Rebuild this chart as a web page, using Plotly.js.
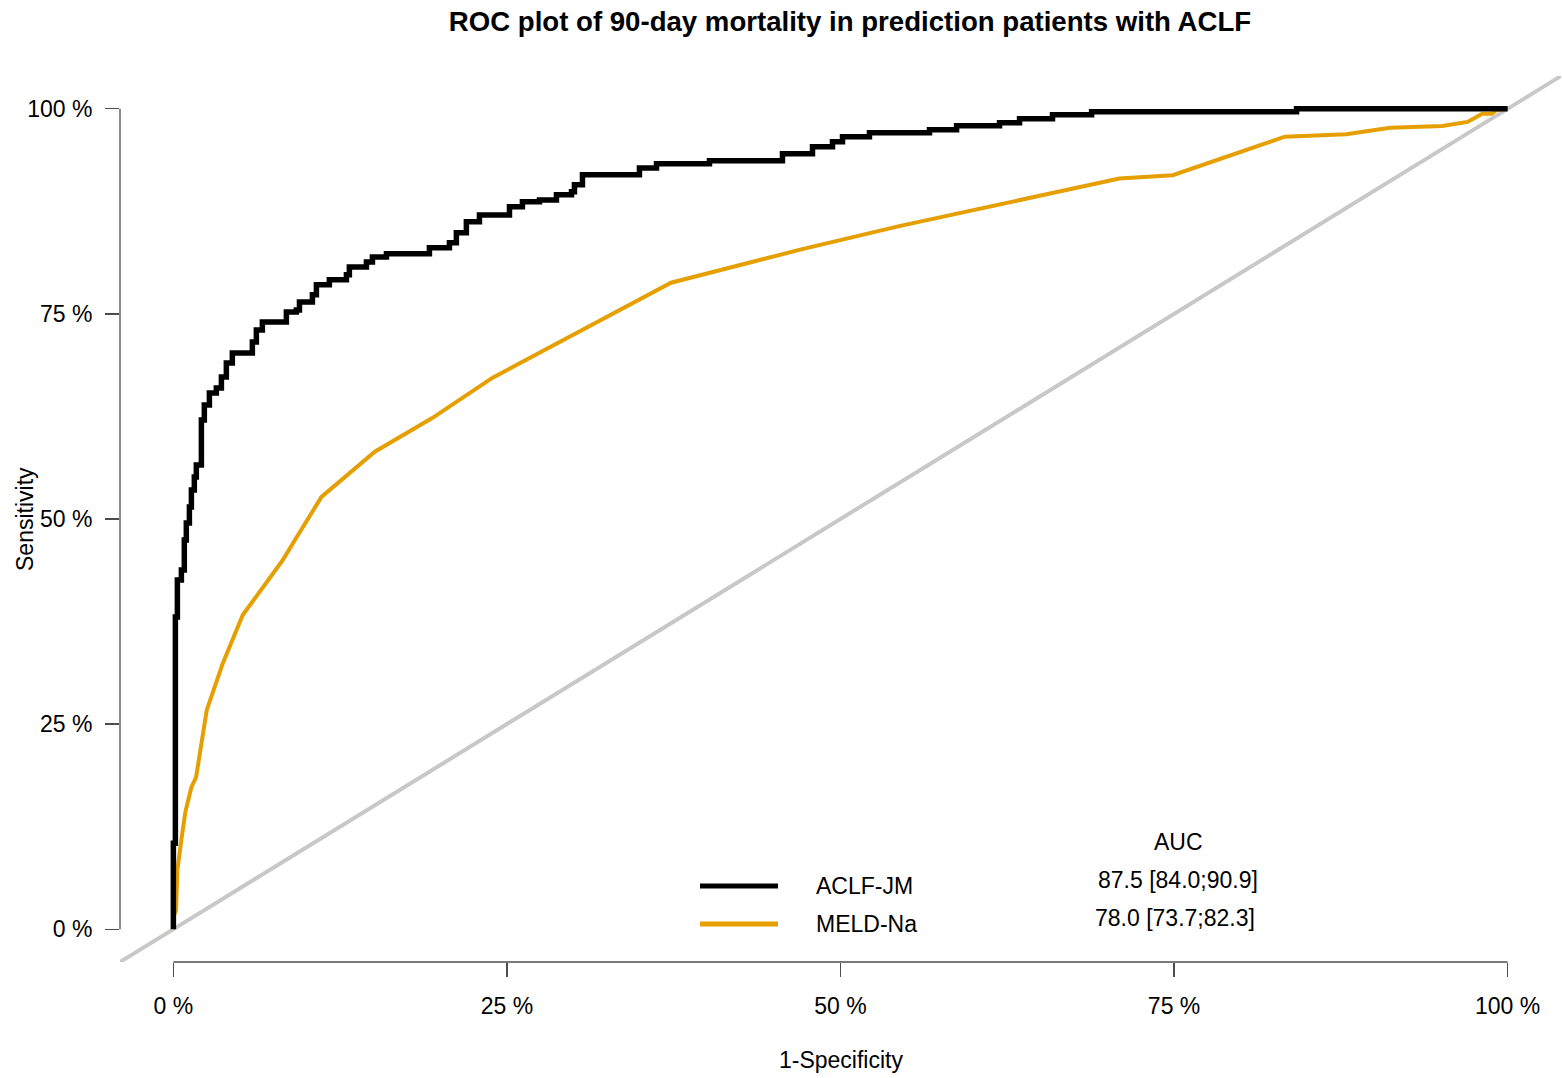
<!DOCTYPE html>
<html>
<head>
<meta charset="utf-8">
<script src="https://cdn.plot.ly/plotly-3.0.1.min.js"></script>
<style>html,body{margin:0;padding:0;background:#fff;}#chart{width:1562px;height:1078px;}</style>
</head>
<body>
<div id="chart"></div>
<script>
// ---- data (percent) ----
const seriesNames = ["ACLF-JM", "MELD-Na"];
const aucText = ["87.5 [84.0;90.9]", "78.0 [73.7;82.3]"];

const aclfX = [0, 0, 0.15, 0.15, 0.30, 0.60, 0.82, 0.97, 1.20, 1.35, 1.57, 1.72, 2.10, 2.32, 2.70, 3.22, 3.60, 3.97, 4.42,
  5.92, 6.22, 6.67, 8.47, 9.22, 9.45, 10.42, 10.72, 11.69, 12.97, 13.19, 14.47, 14.92, 15.97, 19.19, 20.69, 21.21,
  21.96, 22.94, 25.19, 26.16, 27.44, 28.71, 29.84, 30.06, 30.66, 34.93, 36.21, 40.18, 45.65, 47.90, 49.40, 50.15,
  52.17, 56.67, 58.70, 61.92, 63.42, 65.89, 68.82, 84.18, 100];
const aclfY = [0, 10.49, 10.49, 38.05, 42.56, 43.78, 47.44, 49.51, 51.46, 53.54, 55.12, 56.59, 62.07, 63.90, 65.37, 65.98,
  67.32, 69.02, 70.24, 71.59, 73.05, 74.02, 75.24, 75.49, 76.46, 77.32, 78.54, 79.15, 79.76, 80.73, 81.34, 81.95,
  82.32, 83.05, 83.66, 84.88, 86.22, 87.07, 88.05, 88.66, 88.90, 89.51, 89.88, 90.73, 91.95, 92.80, 93.29, 93.66,
  94.51, 95.37, 95.98, 96.59, 97.07, 97.44, 97.93, 98.29, 98.78, 99.27, 99.63, 100, 100];

const meldX = [0, 0, 0.2, 0.3, 0.6, 0.9, 1.35, 1.7, 2.5, 3.7, 5.2, 8.2, 9.1, 11.1, 15.1, 19.4, 23.9, 29.5, 37.3, 46.9,
  54.4, 70.9, 74.9, 83.3, 87.9, 91.2, 95.1, 97.0, 98.1, 98.8, 99.2, 100];
const meldY = [0, 1.5, 2.3, 7.2, 10.9, 14.3, 17.3, 18.5, 26.7, 32.4, 38.3, 45.0, 47.4, 52.7, 58.2, 62.3, 67.2, 72.1,
  78.8, 82.8, 85.7, 91.5, 91.9, 96.6, 96.9, 97.7, 97.9, 98.4, 99.4, 99.4, 99.9, 100];

const refX = [-4, 104];
const refY = [-4, 104];

const tickVals = [0, 25, 50, 75, 100];
const tickText = ["0 %", "25 %", "50 %", "75 %", "100 %"];

// ---- layout geometry (pixels) ----
const W = 1562, H = 1078;
const M = {l: 120, r: 1, t: 76, b: 116};
const PW = W - M.l - M.r, PH = H - M.t - M.b;
const px = v => (v - M.l) / PW;
const py = v => (H - M.b - v) / PH;

const FONT = "Liberation Sans, Arial, sans-serif";
const FS = 23;
const colBlack = "#000000", colOrange = "#E69F00", colGray = "#C8C8C8", axisCol = "#4d4d4d";

const traces = [
  {x: refX, y: refY, mode: "lines", line: {color: colGray, width: 4}, hoverinfo: "skip", showlegend: false},
  {x: meldX, y: meldY, mode: "lines", name: seriesNames[1], line: {color: colOrange, width: 4}, showlegend: false},
  {x: aclfX, y: aclfY, mode: "lines", name: seriesNames[0], line: {color: colBlack, width: 5.5, shape: "hv"}, showlegend: false}
];

const axisCommon = {
  tickvals: tickVals, ticktext: tickText, ticks: "outside", ticklen: 14, tickwidth: 1.3, tickcolor: axisCol,
  showline: false, showgrid: false, zeroline: false, tickfont: {family: FONT, size: FS, color: "#000"},
  fixedrange: true
};

const txt = (text, x, y, xanchor, extra) => Object.assign({
  text: text, xref: "paper", yref: "paper", x: px(x), y: py(y), showarrow: false,
  xanchor: xanchor, yanchor: "middle", font: {family: FONT, size: FS, color: "#000"}
}, extra || {});

const layout = {
  width: W, height: H,
  margin: M,
  paper_bgcolor: "#fff", plot_bgcolor: "#fff",
  font: {family: FONT, color: "#000"},
  title: {text: "<b>ROC plot of 90-day mortality in prediction patients with ACLF</b>",
    font: {family: FONT, size: 27.6, color: "#000"}, xref: "container", x: 850 / W, xanchor: "center",
    yref: "container", y: 1 - 21 / H, yanchor: "middle"},
  xaxis: Object.assign({}, axisCommon, {range: [-4, 104], ticklabelstandoff: 9}),
  yaxis: Object.assign({}, axisCommon, {range: [-4, 104], ticklabelstandoff: 8}),
  shapes: [
    {type: "line", xref: "x", yref: "paper", x0: 0, x1: 100, y0: 0, y1: 0, line: {color: axisCol, width: 1.3}},
    {type: "line", xref: "paper", yref: "y", x0: 0, x1: 0, y0: 0, y1: 100, line: {color: axisCol, width: 1.3}},
    {type: "line", xref: "paper", yref: "paper", x0: px(700), x1: px(778), y0: py(886), y1: py(886), line: {color: colBlack, width: 5}},
    {type: "line", xref: "paper", yref: "paper", x0: px(700), x1: px(778), y0: py(924), y1: py(924), line: {color: colOrange, width: 5}}
  ],
  annotations: [
    txt("Sensitivity", 25, 519, "center", {textangle: -90}),
    txt("1-Specificity", 841, 1060, "center"),
    txt(seriesNames[0], 814, 886, "left"),
    txt(seriesNames[1], 814, 924, "left"),
    txt("AUC", 1178, 842, "center"),
    txt(aucText[0], 1178, 880, "center"),
    txt(aucText[1], 1175, 918, "center")
  ]
};

Plotly.newPlot("chart", traces, layout, {displayModeBar: false, staticPlot: true});
</script>
</body>
</html>
